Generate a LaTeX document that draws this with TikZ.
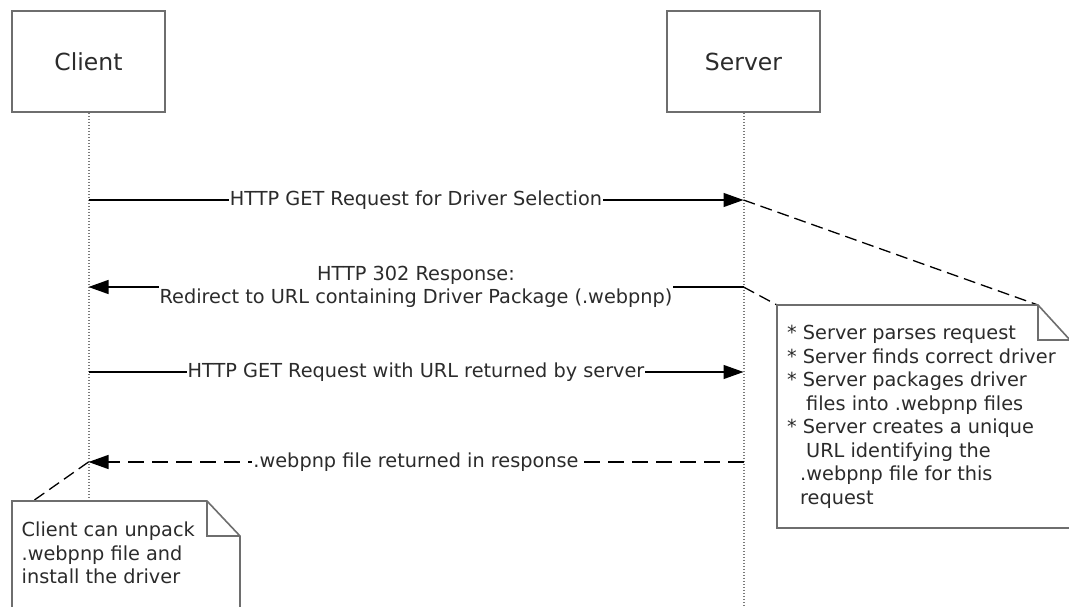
\documentclass[tikz,border=0pt]{standalone}
\usepackage{fontspec}
\setmainfont{DejaVu Sans}
\usetikzlibrary{arrows.meta}

\definecolor{boxgray}{HTML}{6E6E6E}
\definecolor{lifegray}{HTML}{7A7A7A}
\definecolor{txt}{HTML}{2B2B2B}

\begin{document}
\begin{tikzpicture}[x=1pt,y=-1pt,
  actor/.style={draw=boxgray, line width=1.6pt, fill=white, minimum width=153pt, minimum height=101pt, text=txt, font=\fontsize{23.5}{28}\selectfont},
  lifeline/.style={draw=lifegray, line width=2pt, dash pattern=on 1.5pt off 1.5pt},
  msg/.style={line width=1.3pt, -{Triangle[length=20pt,width=14pt]}},
  reply/.style={msg, dash pattern=on 16pt off 8pt},
  lbl/.style={fill=white, inner sep=1pt, align=center, text=txt, font=\fontsize{19.3}{23.2}\selectfont},
  note/.style={draw=boxgray, line width=1.6pt, fill=white, line join=miter},
  notelink/.style={line width=1.3pt, dash pattern=on 12pt off 6pt},
  notetext/.style={inner sep=0pt, align=left, anchor=north west, text=txt, font=\fontsize{19.3}{23.5}\selectfont}]
\useasboundingbox (0,0) rectangle (1069,607);

% lifelines
\coordinate (clientEnd) at (88.5,607);
\coordinate (serverEnd) at (743.5,607);
\node[actor] (client) at (88.5,61.5) {Client};
\node[actor] (server) at (743.5,61.5) {Server};
\draw[lifeline] (client.south) -- (clientEnd);
\draw[lifeline] (server.south) -- (serverEnd);

% message points
\coordinate (c1) at (88.5,200);
\coordinate (s1) at (743.5,200);
\coordinate (c2) at (88.5,287);
\coordinate (s2) at (743.5,287);
\coordinate (c3) at (88.5,372);
\coordinate (s3) at (743.5,372);
\coordinate (c4) at (88.5,462);
\coordinate (s4) at (743.5,462);

% server note
\coordinate (sNoteA) at (777,305);
\coordinate (sNoteB) at (1038,305);
\coordinate (sNoteC) at (1070,340);
\coordinate (sNoteD) at (1070,528);
\coordinate (sNoteE) at (777,528);
\draw[notelink] (s1) -- (sNoteB);
\draw[notelink] (s2) -- (sNoteA);
\draw[note] (sNoteA) -- (sNoteB) -- (sNoteC) -- (sNoteD) -- (sNoteE) -- cycle;
\draw[note, fill=none] (sNoteB) -- (sNoteB |- sNoteC) -- (sNoteC);
\node[notetext] (sNoteText) at (787,325) {* Server parses request\\
* Server finds correct driver\\
* Server packages driver\\
\hspace*{19pt}files into .webpnp files\\
* Server creates a unique\\
\hspace*{19pt}URL identifying the\\
\hspace*{13pt}.webpnp file for this\\
\hspace*{13pt}request};

% client note
\coordinate (cNoteA) at (12,501);
\coordinate (cNoteB) at (207,501);
\coordinate (cNoteC) at (240,536);
\coordinate (cNoteD) at (240,620);
\coordinate (cNoteE) at (12,620);
\coordinate (cLink) at (33,501);
\draw[notelink] (c4) -- (cLink);
\draw[note] (cNoteA) -- (cNoteB) -- (cNoteC) -- (cNoteD) -- (cNoteE) -- cycle;
\draw[note, fill=none] (cNoteB) -- (cNoteB |- cNoteC) -- (cNoteC);
\node[notetext] (cNoteText) at (21.5,522) {Client can unpack\\
.webpnp file and\\
install the driver};

% messages
\draw[msg] (c1) -- node[lbl] {HTTP GET Request for Driver Selection} (s1);
\draw[msg] (s2) -- node[lbl] {HTTP 302 Response:\\Redirect to URL containing Driver Package (.webpnp)} (c2);
\draw[msg] (c3) -- node[lbl] {HTTP GET Request with URL returned by server} (s3);
\draw[reply] (s4) -- node[lbl] {.webpnp file returned in response} (c4);
\end{tikzpicture}
\end{document}
